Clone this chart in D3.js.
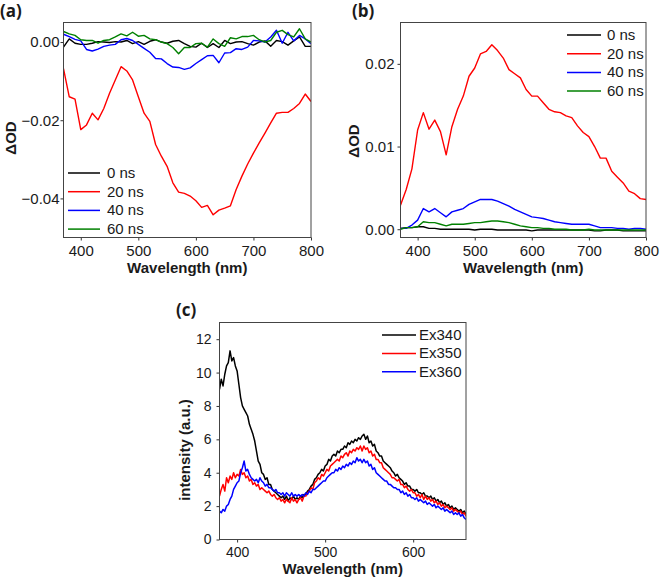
<!DOCTYPE html>
<html>
<head>
<meta charset="utf-8">
<script src="https://cdn.jsdelivr.net/npm/d3@7"></script>
<style>
  body { margin: 0; background: #fff; }
  svg text { font-family: Arial, "Liberation Sans", sans-serif; fill: #1a1a1a; }
</style>
</head>
<body>
<svg width="660" height="581"></svg>
<script>
var svg = d3.select("svg");

// (a) and (b): transient absorption, sampled every 10 nm
var taWavelength = d3.range(370, 801, 10);
var taLabels = ["0 ns", "20 ns", "40 ns", "60 ns"];

var a0ns = [-0.0013, 0.0008, -0.0003, -0.0006, -0.0006, -0.0003, 0.0001, 0.0000, -0.0001, 0.0001, 0.0000,
  0.0004, -0.0004, 0.0001, -0.0006, 0.0002, 0.0006, 0.0000, -0.0003, 0.0002, 0.0004, -0.0004,
  -0.0011, -0.0013, -0.0003, -0.0014, -0.0004, -0.0014, 0.0004, -0.0004, 0.0000, 0.0001, -0.0004,
  -0.0008, 0.0000, 0.0003, -0.0011, 0.0004, 0.0001, -0.0008, 0.0003, 0.0013, -0.0011, -0.0011];
var a20ns = [-0.0068, -0.0140, -0.0146, -0.0224, -0.0212, -0.0182, -0.0199, -0.0170, -0.0131, -0.0097, -0.0063,
  -0.0074, -0.0097, -0.0140, -0.0182, -0.0203, -0.0262, -0.0292, -0.0318, -0.0360, -0.0384, -0.0387,
  -0.0394, -0.0406, -0.0423, -0.0418, -0.0442, -0.0430, -0.0425, -0.0419, -0.0377, -0.0343, -0.0312,
  -0.0284, -0.0258, -0.0233, -0.0207, -0.0182, -0.0180, -0.0180, -0.0170, -0.0157, -0.0133, -0.0152];
var a40ns = [0.0020, 0.0014, 0.0007, 0.0003, -0.0019, -0.0023, -0.0018, -0.0011, -0.0008, -0.0006, 0.0006,
  0.0009, 0.0004, -0.0006, -0.0016, -0.0026, -0.0042, -0.0043, -0.0055, -0.0064, -0.0065, -0.0070,
  -0.0066, -0.0055, -0.0045, -0.0035, -0.0034, -0.0053, -0.0028, -0.0027, -0.0017, -0.0019, -0.0013,
  0.0004, 0.0003, 0.0000, 0.0013, 0.0030, -0.0003, 0.0025, 0.0003, 0.0017, 0.0008, -0.0004];
var a60ns = [0.0027, 0.0021, 0.0017, 0.0006, 0.0004, 0.0004, -0.0003, 0.0004, 0.0006, 0.0013, 0.0021,
  0.0016, 0.0025, 0.0015, 0.0017, 0.0008, 0.0006, 0.0000, -0.0004, -0.0014, -0.0030, -0.0014,
  -0.0014, -0.0004, -0.0003, -0.0013, 0.0008, -0.0004, -0.0011, 0.0011, 0.0008, 0.0014, 0.0014,
  0.0017, 0.0006, 0.0000, 0.0004, 0.0025, 0.0030, 0.0019, 0.0013, 0.0034, 0.0008, 0.0000];

var b0ns = [0.0001, 0.0002, 0.0002, 0.0003, 0.0003, 0.0001, 0.0001, 0.0000, 0.0000, 0.0000, 0.0000,
  0.0000, 0.0000, -0.0001, 0.0000, 0.0000, 0.0000, -0.0001, -0.0001, -0.0001, -0.0001, -0.0001,
  -0.0001, -0.0002, -0.0001, -0.0001, -0.0001, -0.0001, -0.0001, -0.0001, -0.0001, -0.0001, -0.0001,
  -0.0001, -0.0002, -0.0002, -0.0001, -0.0001, -0.0001, -0.0002, -0.0002, -0.0002, -0.0002, -0.0002];
var b20ns = [0.0029, 0.0048, 0.0073, 0.0120, 0.0141, 0.0121, 0.0132, 0.0118, 0.0090, 0.0124, 0.0145,
  0.0161, 0.0185, 0.0195, 0.0212, 0.0215, 0.0223, 0.0216, 0.0207, 0.0193, 0.0188, 0.0183,
  0.0169, 0.0161, 0.0161, 0.0153, 0.0145, 0.0142, 0.0141, 0.0137, 0.0135, 0.0125, 0.0117,
  0.0112, 0.0100, 0.0086, 0.0086, 0.0070, 0.0063, 0.0056, 0.0046, 0.0043, 0.0037, 0.0036];
var b40ns = [0.0001, 0.0001, 0.0005, 0.0011, 0.0025, 0.0021, 0.0025, 0.0020, 0.0015, 0.0021, 0.0023,
  0.0025, 0.0030, 0.0033, 0.0036, 0.0036, 0.0036, 0.0034, 0.0031, 0.0028, 0.0024, 0.0021,
  0.0018, 0.0015, 0.0014, 0.0013, 0.0011, 0.0009, 0.0008, 0.0007, 0.0006, 0.0006, 0.0006,
  0.0006, 0.0004, 0.0002, 0.0002, 0.0002, 0.0001, 0.0001, 0.0000, 0.0001, 0.0001, 0.0000];
var b60ns = [0.0000, 0.0002, 0.0002, 0.0003, 0.0009, 0.0008, 0.0008, 0.0006, 0.0004, 0.0006, 0.0006,
  0.0006, 0.0007, 0.0008, 0.0008, 0.0009, 0.0010, 0.0010, 0.0009, 0.0008, 0.0006, 0.0004,
  0.0003, 0.0002, 0.0002, 0.0001, 0.0001, 0.0000, 0.0000, 0.0000, -0.0001, -0.0001, -0.0001,
  0.0000, -0.0001, -0.0001, -0.0001, -0.0001, -0.0001, -0.0001, -0.0001, -0.0001, -0.0001, -0.0001];

// (c): emission spectra, sampled every 2 nm
var flWavelength = d3.range(380, 661, 2);
var flLabels = ["Ex340", "Ex350", "Ex360"];

var ex340 = [9.0, 9.6, 9.2, 9.9, 10.4, 10.6, 11.3, 10.7, 10.9, 10.4,
  10.1, 9.3, 8.5, 8.0, 7.8, 7.6, 7.4, 6.9, 6.6, 6.3,
  5.9, 5.3, 4.7, 4.5, 4.0, 3.9, 3.6, 3.7, 3.3, 3.3,
  3.0, 2.9, 2.8, 2.7, 2.6, 2.5, 2.6, 2.4, 2.6, 2.3,
  2.5, 2.4, 2.6, 2.4, 2.5, 2.4, 2.6, 2.5, 2.7, 2.7,
  2.9, 3.0, 3.2, 3.3, 3.6, 3.7, 3.9, 4.0, 4.2, 4.1,
  4.4, 4.5, 4.8, 4.7, 5.0, 5.1, 5.0, 5.3, 5.2, 5.4,
  5.4, 5.6, 5.5, 5.8, 5.7, 5.9, 5.8, 6.0, 5.9, 6.1,
  6.0, 6.2, 6.3, 6.0, 6.2, 5.8, 5.9, 5.6, 5.7, 5.3,
  5.2, 5.0, 5.0, 4.7, 4.6, 4.5, 4.4, 4.3, 4.1, 4.0,
  3.8, 3.9, 3.7, 3.6, 3.5, 3.3, 3.4, 3.2, 3.2, 3.0,
  3.0, 2.9, 3.0, 2.8, 2.8, 2.7, 2.8, 2.6, 2.6, 2.5,
  2.6, 2.4, 2.5, 2.3, 2.4, 2.2, 2.3, 2.1, 2.2, 2.0,
  2.1, 1.9, 2.0, 1.8, 1.9, 1.8, 1.7, 1.8, 1.6, 1.7,
  1.5];
var ex350 = [2.6, 3.0, 3.3, 2.9, 3.7, 3.4, 3.8, 3.6, 4.0, 3.7,
  3.9, 3.8, 4.2, 3.9, 4.0, 3.7, 3.8, 3.5, 3.6, 3.3,
  3.4, 3.2, 3.3, 3.0, 3.1, 3.0, 2.9, 2.8, 2.9, 2.7,
  2.6, 2.7, 2.5, 2.4, 2.5, 2.3, 2.4, 2.2, 2.4, 2.3,
  2.2, 2.5, 2.3, 2.4, 2.2, 2.4, 2.5, 2.3, 2.6, 2.6,
  2.8, 2.9, 3.1, 3.0, 3.4, 3.5, 3.7, 3.6, 3.9, 3.8,
  4.0, 4.2, 4.1, 4.4, 4.5, 4.6, 4.7, 4.8, 4.7, 5.0,
  4.9, 5.1, 5.2, 5.0, 5.3, 5.2, 5.4, 5.3, 5.5, 5.4,
  5.6, 5.3, 5.6, 5.4, 5.5, 5.2, 5.3, 5.0, 5.1, 4.8,
  4.8, 4.6, 4.6, 4.3, 4.2, 4.1, 4.0, 3.9, 3.7, 3.7,
  3.6, 3.5, 3.6, 3.3, 3.3, 3.1, 3.2, 3.0, 2.9, 3.0,
  2.8, 2.8, 2.6, 2.7, 2.5, 2.7, 2.4, 2.6, 2.4, 2.5,
  2.3, 2.4, 2.2, 2.3, 2.1, 2.2, 2.0, 2.1, 1.9, 2.0,
  1.9, 1.8, 1.9, 1.7, 1.8, 1.7, 1.6, 1.7, 1.5, 1.6,
  1.4];
var ex360 = [1.7, 1.6, 1.8, 1.7, 2.0, 2.1, 2.4, 2.6, 3.0, 3.2,
  3.4, 3.5, 4.0, 4.3, 4.7, 4.1, 4.2, 3.9, 3.7, 3.6,
  3.5, 3.6, 3.4, 3.7, 3.5, 3.4, 3.2, 3.3, 3.1, 3.1,
  3.0, 2.9, 3.0, 2.8, 2.8, 2.7, 2.8, 2.6, 2.8, 2.7,
  2.6, 2.8, 2.6, 2.7, 2.6, 2.7, 2.6, 2.7, 2.6, 2.8,
  2.7, 2.9, 2.8, 3.0, 3.0, 3.1, 3.2, 3.3, 3.4, 3.5,
  3.5, 3.7, 3.8, 3.9, 4.0, 4.0, 4.2, 4.1, 4.3, 4.2,
  4.4, 4.3, 4.5, 4.4, 4.6, 4.5, 4.7, 4.6, 4.9, 4.7,
  4.8, 4.6, 4.8, 4.6, 4.7, 4.4, 4.5, 4.2, 4.3, 4.0,
  3.9, 3.8, 3.7, 3.6, 3.5, 3.5, 3.3, 3.3, 3.2, 3.1,
  3.1, 3.0, 3.0, 2.8, 2.9, 2.7, 2.8, 2.6, 2.7, 2.5,
  2.5, 2.4, 2.5, 2.3, 2.4, 2.3, 2.2, 2.3, 2.1, 2.2,
  2.1, 2.0, 2.1, 1.9, 2.0, 1.9, 1.8, 1.9, 1.7, 1.8,
  1.7, 1.6, 1.7, 1.5, 1.6, 1.5, 1.6, 1.4, 1.5, 1.3,
  1.2];

var taXTicks = [400, 500, 600, 700, 800];
var aYTicks = [0, -0.02, -0.04];
var bYTicks = [0, 0.01, 0.02];
var cXTicks = [400, 500, 600];
var cYTicks = [0, 2, 4, 6, 8, 10, 12];

var colors4 = ["#000000", "#ff0000", "#0000ff", "#008000"];
var colors3 = ["#000000", "#ff0000", "#0000ff"];

function drawPanel(cfg) {
  var g = svg.append("g");
  var x = d3.scaleLinear().domain(cfg.xDomain).range([cfg.left, cfg.right]);
  var y = d3.scaleLinear().domain(cfg.yDomain).range([cfg.bottom, cfg.top]);

  svg.append("clipPath").attr("id", "clip-" + cfg.name)
    .append("rect")
    .attr("x", cfg.left).attr("y", cfg.top)
    .attr("width", cfg.right - cfg.left).attr("height", cfg.bottom - cfg.top);

  var xAxis = g.append("g")
    .attr("transform", "translate(0," + cfg.bottom + ")")
    .call(d3.axisBottom(x).tickValues(cfg.xTicks).tickSize(3).tickPadding(cfg.xPad).tickFormat(d3.format("d")));
  var yAxis = g.append("g")
    .attr("transform", "translate(" + cfg.left + ",0)")
    .call(d3.axisLeft(y).tickValues(cfg.yTicks).tickSize(3).tickPadding(cfg.yPad).tickFormat(cfg.yFormat));

  [xAxis, yAxis].forEach(function(a) {
    a.select(".domain").remove();
    a.attr("font-family", null).attr("font-size", null);
    a.selectAll(".tick line").attr("stroke", "#333");
    a.selectAll(".tick text").style("font-size", cfg.tickSize + "px").attr("fill", "#1a1a1a");
  });

  var line = d3.line()
    .x(function(d, i) { return x(cfg.xs[i]); })
    .y(function(d) { return y(d); });

  var lines = g.append("g").attr("clip-path", "url(#clip-" + cfg.name + ")");
  cfg.series.forEach(function(s, i) {
    lines.append("path")
      .datum(s)
      .attr("d", line)
      .attr("fill", "none")
      .attr("stroke", cfg.colors[i])
      .attr("stroke-width", cfg.lineWidth)
      .attr("stroke-linejoin", "round");
  });

  // frame
  g.append("rect")
    .attr("x", cfg.left).attr("y", cfg.top)
    .attr("width", cfg.right - cfg.left).attr("height", cfg.bottom - cfg.top)
    .attr("fill", "none").attr("stroke", "#444").attr("stroke-width", 1);

  // legend
  var leg = g.append("g");
  cfg.labels.forEach(function(lab, i) {
    var ly = cfg.legend.y + i * cfg.legend.step;
    leg.append("line")
      .attr("x1", cfg.legend.x1).attr("x2", cfg.legend.x2)
      .attr("y1", ly).attr("y2", ly)
      .attr("stroke", cfg.colors[i]).attr("stroke-width", 1.5);
    leg.append("text")
      .attr("x", cfg.legend.tx).attr("y", ly + 5)
      .style("font-size", cfg.legend.size + "px")
      .text(lab);
  });

  // axis titles
  g.append("text")
    .attr("x", (cfg.left + cfg.right) / 2).attr("y", cfg.xTitleY)
    .attr("text-anchor", "middle")
    .style("font-size", "15px").style("font-weight", "bold")
    .text("Wavelength (nm)");
  g.append("text")
    .attr("transform", "translate(" + cfg.yTitleX + "," + cfg.yTitleY + ") rotate(-90)")
    .attr("text-anchor", "middle")
    .style("font-size", "15px").style("font-weight", "bold")
    .text(cfg.yTitle);

  // panel letter
  g.append("text")
    .attr("x", cfg.tag[0]).attr("y", cfg.tag[1])
    .style("font-family", "'Open Sans', sans-serif")
    .style("font-size", "17px").style("font-weight", "bold")
    .text(cfg.tagText);
}

drawPanel({
  name: "a", tagText: "(a)", tag: [0, 17],
  left: 63.5, right: 311, top: 22.5, bottom: 237.5,
  xDomain: [370, 800], yDomain: [-0.05, 0.005],
  xTicks: taXTicks, yTicks: aYTicks, yFormat: d3.format(".2f"),
  xPad: 5, yPad: 1, tickSize: 15, lineWidth: 1.4,
  xs: taWavelength, series: [a0ns, a20ns, a40ns, a60ns],
  colors: colors4, labels: taLabels,
  legend: { x1: 68, x2: 100, tx: 107, y: 173, step: 18.7, size: 15 },
  xTitleY: 273, yTitle: "\u0394OD", yTitleX: 16, yTitleY: 138
});

drawPanel({
  name: "b", tagText: "(b)", tag: [352, 17],
  left: 400.5, right: 646, top: 22.5, bottom: 237.5,
  xDomain: [370, 800], yDomain: [-0.001, 0.025],
  xTicks: taXTicks, yTicks: bYTicks, yFormat: d3.format(".2f"),
  xPad: 5, yPad: 3, tickSize: 15, lineWidth: 1.4,
  xs: taWavelength, series: [b0ns, b20ns, b40ns, b60ns],
  colors: colors4, labels: taLabels,
  legend: { x1: 567, x2: 601, tx: 607, y: 35, step: 18.7, size: 15 },
  xTitleY: 273, yTitle: "\u0394OD", yTitleX: 359, yTitleY: 141
});

drawPanel({
  name: "c", tagText: "(c)", tag: [176, 316],
  left: 219.5, right: 466, top: 322.5, bottom: 539.5,
  xDomain: [380, 660], yDomain: [0, 13],
  xTicks: cXTicks, yTicks: cYTicks, yFormat: d3.format("d"),
  xPad: 5, yPad: 5, tickSize: 14, lineWidth: 1.5,
  xs: flWavelength, series: [ex340, ex350, ex360],
  colors: colors3, labels: flLabels,
  legend: { x1: 382, x2: 416, tx: 419, y: 335, step: 18.4, size: 15 },
  xTitleY: 574, yTitle: "intensity (a.u.)", yTitleX: 190, yTitleY: 450
});
</script>
</body>
</html>
